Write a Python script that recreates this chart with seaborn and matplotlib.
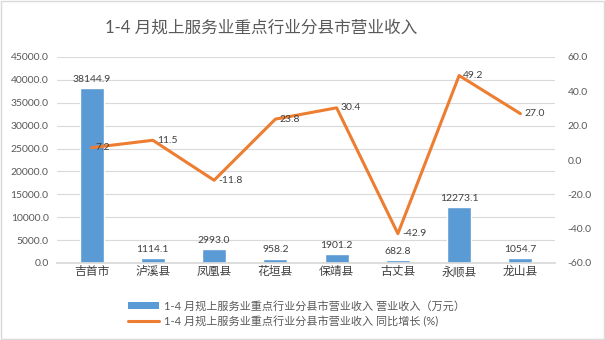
import matplotlib
matplotlib.use("Agg")
import matplotlib.pyplot as plt
import seaborn as sns
import pandas as pd
from matplotlib.patches import Rectangle, Patch
from matplotlib.lines import Line2D

counties = ["吉首市", "泸溪县", "凤凰县", "花垣县", "保靖县", "古丈县", "永顺县", "龙山县"]
revenue = [38144.9, 1114.1, 2993.0, 958.2, 1901.2, 682.8, 12273.1, 1054.7]
growth = [7.2, 11.5, -11.8, 23.8, 30.4, -42.9, 49.2, 27.0]
title = "1-4 月规上服务业重点行业分县市营业收入"
label_bar = "1-4 月规上服务业重点行业分县市营业收入 营业收入（万元）"
label_line = "1-4 月规上服务业重点行业分县市营业收入 同比增长 (%)"

df = pd.DataFrame({"county": counties, "revenue": revenue, "growth": growth})

sns.set_theme(style="white")
plt.rcParams["font.family"] = ["Lato", "Noto Sans CJK SC", "DejaVu Sans"]

BLUE = "#5B9BD5"
ORANGE = "#ED7D31"
TXT = "#595959"
GRID = "#D9D9D9"

fig = plt.figure(figsize=(6.05, 3.4), dpi=100)
ax = fig.add_axes([57/605, 1-263/340, (555-57)/605, (263-57)/340])

sns.barplot(data=df, x="county", y="revenue", color=BLUE, width=0.39,
            saturation=1, ax=ax, zorder=2)
ax.set_ylim(0, 45000)
ax.set_yticks(range(0, 45001, 5000))
ax.set_yticklabels([f"{v:.1f}" for v in range(0, 45001, 5000)])
ax.yaxis.grid(True, color=GRID, linewidth=0.8, zorder=0)
ax.set_axisbelow(True)
for s in ax.spines.values():
    s.set_visible(False)
ax.spines["bottom"].set_visible(True)
ax.spines["bottom"].set_color(GRID)
ax.set_xlabel("")
ax.set_ylabel("")
ax.tick_params(axis="both", length=0, colors=TXT, labelsize=7.5)
ax.tick_params(axis="x", labelsize=8.5, pad=2, colors="#404040")
ax.tick_params(axis="y", pad=6)

for i, v in enumerate(revenue):
    ax.annotate(f"{v:.1f}", (i, v), xytext=(0, 3), textcoords="offset points",
                ha="center", va="bottom", fontsize=7.5, color="#404040")

ax2 = ax.twinx()
sns.lineplot(data=df, x="county", y="growth", sort=False, color=ORANGE,
             linewidth=2.2, ax=ax2, zorder=3)
ax2.set_ylim(-60, 60)
ax2.set_yticks(range(-60, 61, 20))
ax2.set_yticklabels([f"{v:.1f}" for v in range(-60, 61, 20)])
for s in ax2.spines.values():
    s.set_visible(False)
ax2.set_ylabel("")
ax2.tick_params(axis="y", length=0, colors=TXT, labelsize=7.5, pad=9)

for i, v in enumerate(growth):
    ax2.annotate(f"{v:.1f}", (i, v), xytext=(3, 0), textcoords="offset points",
                 ha="left", va="center", fontsize=7.5, color="#404040")

fig.text(261/605, 1-28/340, title, ha="center", va="center", fontsize=12, color=TXT)

handles = [Patch(facecolor=BLUE, edgecolor="none"),
           Line2D([0], [0], color=ORANGE, linewidth=2.2)]
fig.legend(handles, [label_bar, label_line], loc="upper left",
           bbox_to_anchor=(122/605, 1-295/340), frameon=False, fontsize=8,
           labelcolor=TXT, handlelength=2.8, handleheight=0.6,
           labelspacing=0.35, handletextpad=0.5, borderpad=0)

fig.patches.append(Rectangle((0.001, 0.002), 0.997, 0.995, transform=fig.transFigure,
                             fill=False, edgecolor="#D9D9D9", linewidth=1))

fig.savefig("out.png", dpi=100, facecolor="white")
